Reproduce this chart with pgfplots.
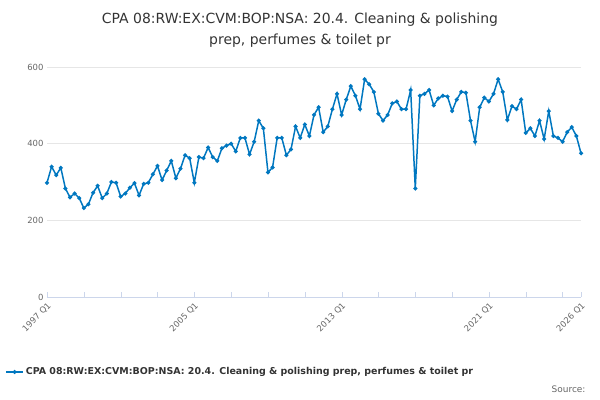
\documentclass[border=0pt]{standalone}
\usepackage{pgfplots}
\pgfplotsset{compat=1.18}
\usepackage{fontspec}
\setmainfont{DejaVu Sans}
\definecolor{ln}{HTML}{0077C0}
\definecolor{tk}{HTML}{666666}
\definecolor{gr}{HTML}{E6E6E6}
\definecolor{ax}{HTML}{CCD6EB}
\begin{document}
\begin{tikzpicture}
\path[use as bounding box] (0bp,0bp) rectangle (600bp,400bp);
\node[font=\fontsize{14}{21}\selectfont, color=black!80, align=center] at (300bp,370bp) {CPA 08:RW:EX:CVM:BOP:NSA: 20.4. Cleaning \& polishing\\prep, perfumes \& toilet pr};
\node[font=\fontsize{9}{10}\selectfont, color=tk, anchor=east] at (589bp,11bp) {Source:};
\begin{axis}[at={(47bp,103bp)}, anchor=south west, scale only axis, width=534bp, height=230bp,
  xmin=1997, xmax=2026, ymin=0, ymax=600,
  axis line style={draw=none}, axis x line*=bottom,
  x axis line style={draw=ax},
  ytick={0,200,400,600}, ymajorgrids, grid style={gr},
  xtick={1997,1999,...,2025,2026},
  xticklabels={1997 Q1,,,,2005 Q1,,,,2013 Q1,,,,2021 Q1,,,2026 Q1},
  x tick label style={rotate=45, anchor=north east, font=\fontsize{8.5}{9}\selectfont, color=tk},
  y tick label style={font=\fontsize{8.5}{9}\selectfont, color=tk},
  major tick length=5bp, xtick style={draw=ax}, ytick style={draw=none},
  /pgf/number format/assume math mode=true,
  legend style={at={(-0.084,-0.326)}, anchor=west, draw=none, fill=none, font=\fontsize{9.5}{10}\selectfont\bfseries, text=black!80},
  legend cell align=left, clip=false]
\addplot[ln, line width=1.5pt, mark=*, mark size=1.2pt] table[x expr=1997+\coordindex/4, y index=0] {
y
298
340
318
337
283
260
270
258
232
242
272
290
258
270
300
298
262
270
285
297
265
295
298
320
342
305
330
355
310
335
370
362
298
365
362
390
365
355
388
395
400
380
415
415
372
405
460
440
325
338
415
415
370
385
445
415
450
420
475
495
430
445
490
530
475
515
550
525
490
568
555
535
478
460
475
505
510
490
490
540
283
525
530
540
500
518
525
523
485
515
535
533
460
405
495
520
510
530
568
535
462
498
490
515
428
440
420
460
412
485
420
415
405
430
443
420
375
};
\addlegendentry{CPA 08:RW:EX:CVM:BOP:NSA: 20.4. Cleaning \& polishing prep, perfumes \& toilet pr}
\end{axis}
\end{tikzpicture}
\end{document}
